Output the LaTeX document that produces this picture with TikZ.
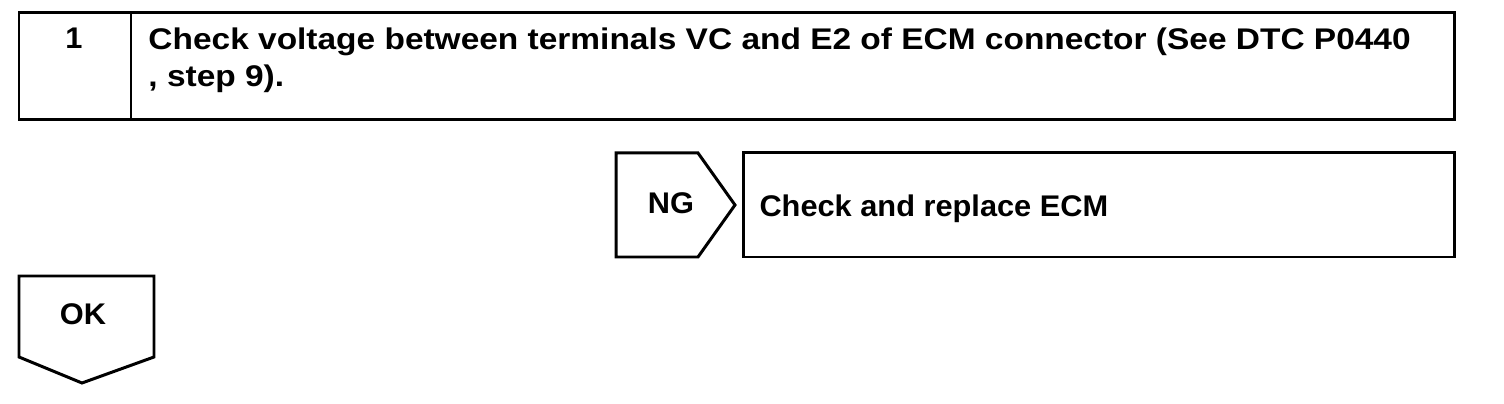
\documentclass[tikz,border=0pt]{standalone}
\usepackage{fontspec}
\setmainfont{Liberation Sans}[FakeStretch=1.03]
\newfontfamily\widefont{Liberation Sans}[FakeStretch=1.12]
\begin{document}
\begin{tikzpicture}[x=0.02cm,y=-0.02cm,line width=1.7pt,line join=miter,
    txt/.style={font=\bfseries\fontsize{17}{21.5}\selectfont,inner sep=0pt}]
    \useasboundingbox (0,0) rectangle (1504,404);

    % step 1
    \coordinate (sa) at (19,13);
    \coordinate (sb) at (1454,120);
    \draw (sa) rectangle (sb);
    \draw (131,13) -- (131,120);
    \node[txt,anchor=base] (num) at (74,49) {1};
    \node[txt,anchor=base west,align=left,font=\widefont\bfseries\fontsize{17}{21.5}\selectfont] (chk) at (147,87)
        {Check voltage between terminals VC and E2 of ECM connector (See DTC P0440\\, step 9).};

    % NG branch
    \draw (616,153) -- (698,153) -- (735,205) -- (698,257) -- (616,257) -- cycle;
    \node[txt,anchor=base] (ng) at (671,214) {NG};
    \draw (743,153) rectangle (1454,257);
    \node[txt,anchor=base west] (ecm) at (758,217) {Check and replace ECM};

    % OK branch
    \draw (19,276) -- (154,276) -- (154,357) -- (82,383) -- (19,357) -- cycle;
    \node[txt,anchor=base] (ok) at (83,325) {OK};
\end{tikzpicture}
\end{document}
